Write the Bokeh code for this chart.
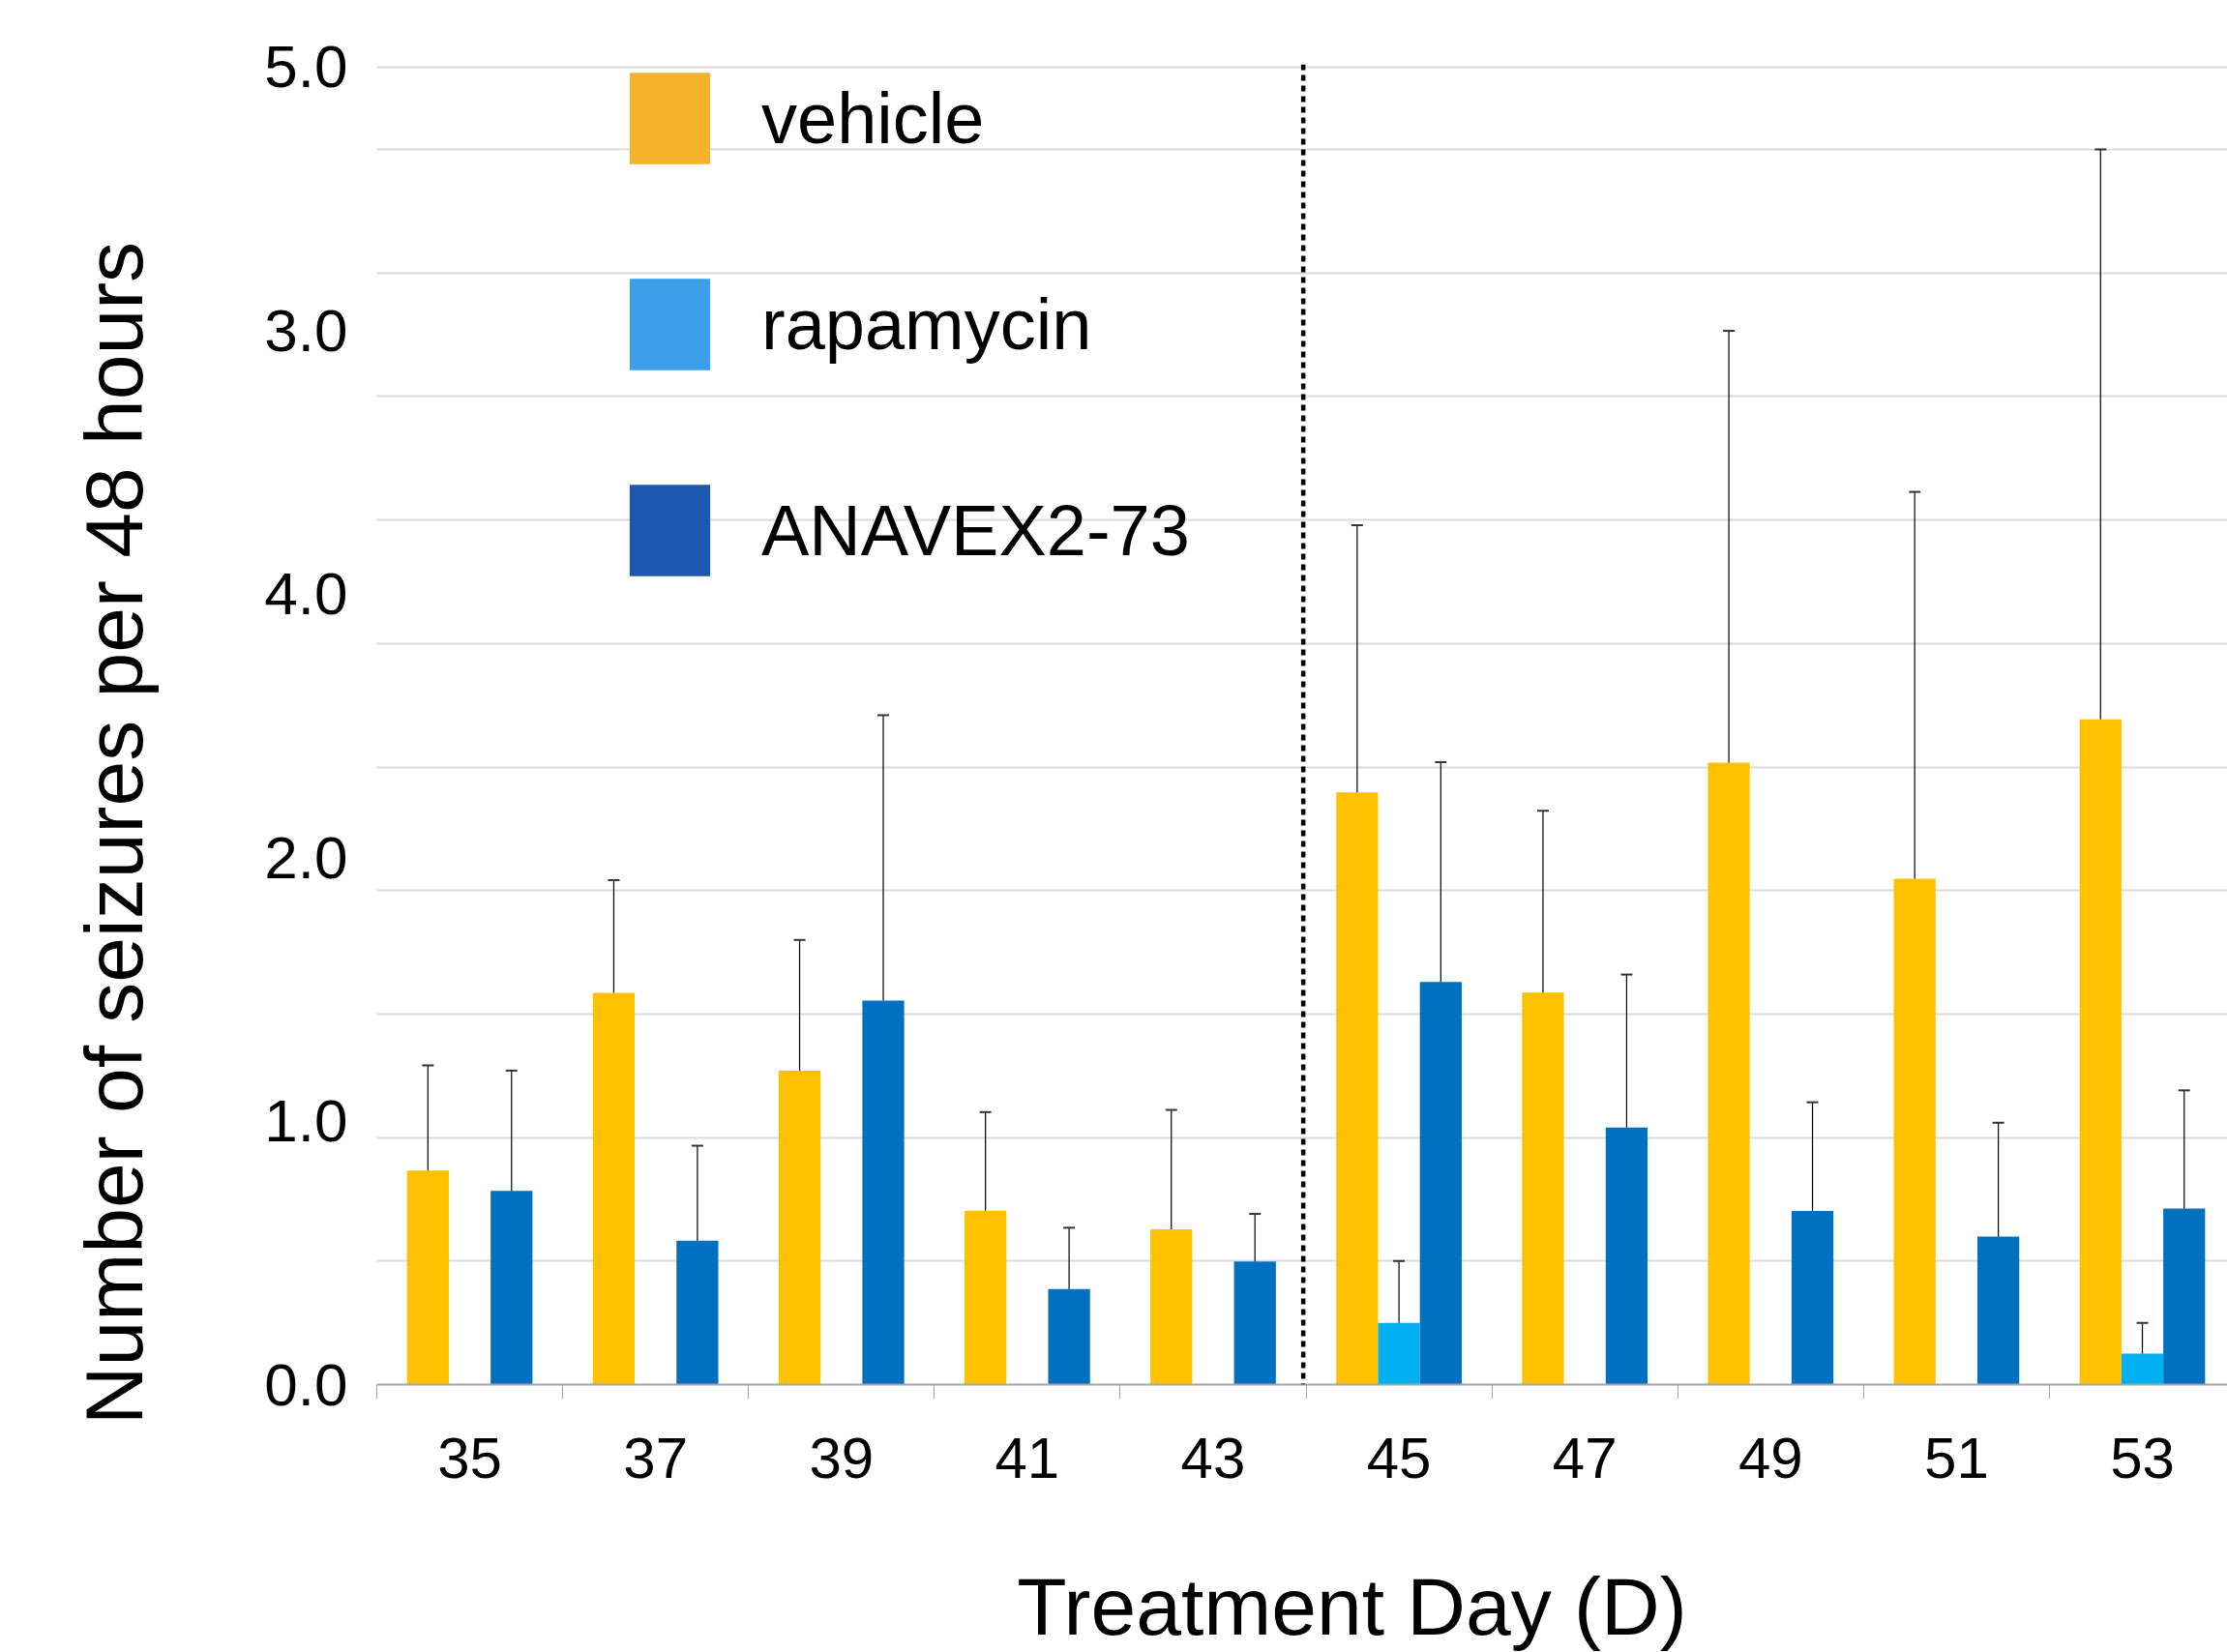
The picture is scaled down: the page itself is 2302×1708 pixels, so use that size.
import math
from bokeh.plotting import figure
from bokeh.models import (ColumnDataSource, Range1d, FixedTicker, Whisker, TeeHead,
                          Legend, LegendItem, Span, Label)
from bokeh.embed import file_html
from bokeh.resources import INLINE

# ---------------- data ----------------
days = ["35", "37", "39", "41", "43", "45", "47", "49", "51", "53"]
series_names = ["vehicle", "rapamycin", "ANAVEX2-73"]

vehicle_mean = [0.866, 1.586, 1.271, 0.704, 0.628, 2.397, 1.587, 2.518, 2.048, 2.693]
vehicle_err = [0.426, 0.456, 0.529, 0.399, 0.484, 1.082, 0.736, 1.748, 1.566, 2.307]

rapamycin_mean = [None, None, None, None, None, 0.25, None, None, None, 0.125]
rapamycin_err = [None, None, None, None, None, 0.25, None, None, None, 0.125]

anavex_mean = [0.784, 0.582, 1.555, 0.387, 0.498, 1.630, 1.041, 0.703, 0.599, 0.713]
anavex_err = [0.487, 0.385, 1.155, 0.248, 0.193, 0.890, 0.619, 0.440, 0.461, 0.478]

y_tick_labels = ["0.0", "1.0", "2.0", "4.0", "3.0", "5.0"]

# ---------------- style ----------------
bar_colors = ["#FFC000", "#00B0F0", "#0070C0"]
legend_colors = ["#F4B32A", "#3C9FEA", "#1C58AF"]
FONT = "Liberation Sans"

y_top = 16 / 3
y_view_end = 5.345
x_end = 9.958
bar_w = 0.225
offsets = [-0.225, 0.0, 0.225]
grid_step = 0.5
divider_x = 4.985

p = figure(width=2302, height=1708,
           x_range=Range1d(0, x_end), y_range=Range1d(0, y_view_end),
           min_border_left=389, min_border_right=0,
           min_border_top=66, min_border_bottom=277,
           outline_line_color=None, toolbar_location=None,
           output_backend="svg", background_fill_color="white",
           border_fill_color="white")

# grid
n_grid = int(round(5.0 / grid_step))
p.ygrid.ticker = FixedTicker(ticks=[grid_step * k for k in range(1, n_grid + 1)] + [y_top])
p.ygrid.grid_line_color = "#DCDCDC"
p.ygrid.grid_line_width = 2
p.xgrid.grid_line_color = None

# x axis: labels at group centers, minor ticks at boundaries
centers = [i + 0.5 for i in range(len(days))]
bounds = [i for i in range(len(days) + 1)]
p.xaxis.ticker = FixedTicker(ticks=centers, minor_ticks=bounds)
p.xaxis.major_label_overrides = {c: d for c, d in zip(centers, days)}
p.xaxis.major_tick_line_color = None
p.xaxis.major_tick_out = 0
p.xaxis.major_tick_in = 0
p.xaxis.minor_tick_line_color = "#A6A6A6"
p.xaxis.minor_tick_line_width = 1
p.xaxis.minor_tick_out = 15
p.xaxis.minor_tick_in = 0
p.xaxis.axis_line_color = "#A6A6A6"
p.xaxis.axis_line_width = 2
p.xaxis.major_label_standoff = 40
p.xaxis.major_label_text_font = FONT
p.xaxis.major_label_text_font_size = "60px"
p.xaxis.major_label_text_color = "black"

# y axis
y_ticks = [y_top * k / (len(y_tick_labels) - 1) for k in range(len(y_tick_labels))]
p.yaxis.ticker = FixedTicker(ticks=y_ticks)
p.yaxis.major_label_overrides = {t: l for t, l in zip(y_ticks, y_tick_labels)}
p.yaxis.axis_line_color = None
p.yaxis.major_tick_line_color = None
p.yaxis.minor_tick_line_color = None
p.yaxis.major_tick_out = 0
p.yaxis.major_tick_in = 0
p.yaxis.major_label_standoff = 30
p.yaxis.major_label_text_font = FONT
p.yaxis.major_label_text_font_size = "62px"
p.yaxis.major_label_text_color = "black"

# bars + error bars
all_means = [vehicle_mean, rapamycin_mean, anavex_mean]
all_errs = [vehicle_err, rapamycin_err, anavex_err]
sources = []
for k in range(3):
    xs, tops, uppers = [], [], []
    for i, (m, e) in enumerate(zip(all_means[k], all_errs[k])):
        if m is None:
            continue
        xs.append(centers[i] + offsets[k])
        tops.append(m)
        uppers.append(m + e)
    src = ColumnDataSource(dict(x=xs, top=tops, upper=uppers))
    sources.append(src)
    p.vbar(x="x", top="top", width=bar_w, source=src,
           fill_color=bar_colors[k], line_color=None)
    w = Whisker(source=src, base="x", lower="top", upper="upper", dimension="height",
                lower_head=None,
                upper_head=TeeHead(size=12, line_width=2, line_color="#333333"),
                line_color="black", line_width=1.2, level="overlay")
    p.add_layout(w)

# divider
p.add_layout(Span(location=divider_x, dimension="height", line_color="black",
                  line_width=4.5, line_dash="6 5"))

# legend (zero-width proxies carry the legend colours)
items = []
for name, col, src in zip(series_names, legend_colors, sources):
    r = p.vbar(x="x", top="top", width=0, source=src, fill_color=col, line_color=None)
    items.append(LegendItem(label=name, renderers=[r]))
legend = Legend(items=items, location=(251, 824), orientation="vertical",
                glyph_width=104, glyph_height=118, spacing=95, label_standoff=43,
                label_text_font=FONT, label_text_font_size="74px",
                label_text_color="black", padding=0, margin=0,
                border_line_color=None, background_fill_alpha=0)
p.add_layout(legend)

# axis titles (in side panels so they are not clipped to the frame)
p.add_layout(Label(x=1008, y=-36, x_units="screen", y_units="screen",
                   text="Treatment Day (D)", text_font=FONT, text_font_size="84px",
                   text_align="center", text_baseline="alphabetic", text_color="black"),
             "below")
p.add_layout(Label(x=-59, y=570, x_units="screen", y_units="screen",
                   text="Number of seizures per 48 hours", text_font=FONT,
                   text_font_size="84px", angle=math.pi / 2,
                   text_align="center", text_baseline="alphabetic", text_color="black"),
             "left")

open("out.html", "w").write(file_html(p, INLINE))
